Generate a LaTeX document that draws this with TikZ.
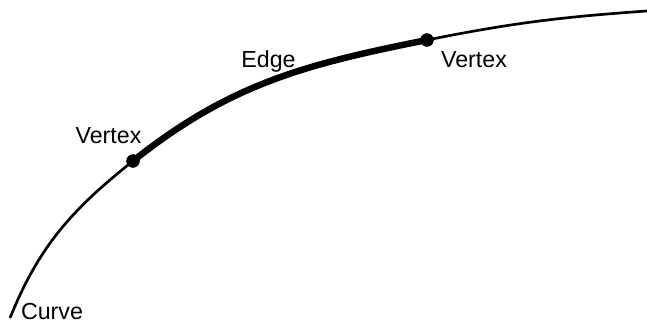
\documentclass[tikz,border=0pt]{standalone}
\usepackage{fontspec}
\setmainfont{Liberation Sans}
\usepackage{tikz}
\usetikzlibrary{arrows.meta}
\tikzset{
  vtx/.style={
    circle, fill=black, draw=none,
    minimum size=0.33cm, inner sep=0pt},
  lbl/.style={
    anchor=base, inner sep=0pt,
    font=\fontsize{16.5}{19}\selectfont},
  thincurve/.style={line width=1.9pt, draw=black},
  thickedge/.style={line width=4.6pt, draw=black},
}
\begin{document}
\begin{tikzpicture}[x=0.025cm, y=0.025cm]
  \useasboundingbox (0,0) rectangle (647,-322);
  \coordinate (c0) at (10,-318);
  \coordinate (c1) at (647,-11);
  \node[vtx] (v1) at (133,-161) {};
  \node[vtx] (v2) at (427,-40) {};
  \draw[thincurve] (c0) to[out=68, in=218.5] (v1.center);
  \draw[thickedge] (v1.center) to[out=38.5, in=191.3] (v2.center);
  \draw[thincurve] (v2.center) to[out=11.3, in=184] (c1);
  \node[vtx] at (v1) {};
  \node[vtx] at (v2) {};
  \node[lbl] (curvelbl) at (52,-319) {Curve};
  \node[lbl] (vlbl1) at (108.5,-143) {Vertex};
  \node[lbl] (elbl) at (268.5,-68) {Edge};
  \node[lbl] (vlbl2) at (474,-68) {Vertex};
\end{tikzpicture}
\end{document}
